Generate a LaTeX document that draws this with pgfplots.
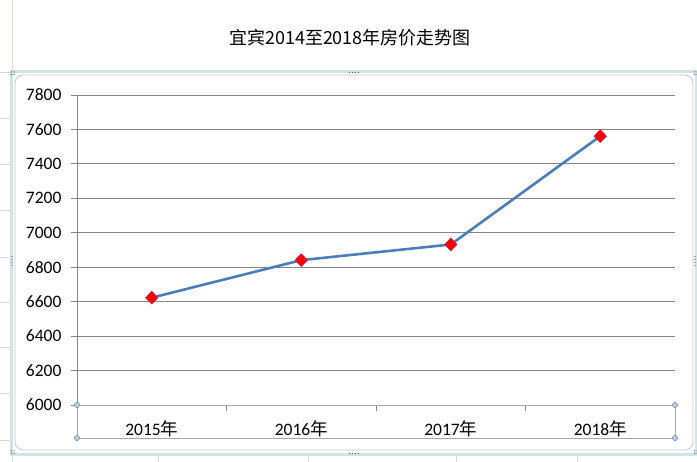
\documentclass[border=0pt]{standalone}
\usepackage{fontspec}
\setmainfont{Carlito}
\newfontfamily\cjk{Noto Sans CJK SC}
\usepackage{pgfplots}
\pgfplotsset{compat=1.18}

\definecolor{gridgray}{HTML}{868686}
\definecolor{linblue}{HTML}{4A7EBB}
\definecolor{cellgrid}{HTML}{D0D7E5}
\definecolor{selframe}{HTML}{CFE4E8}
\definecolor{handle}{HTML}{B9CDE5}
\definecolor{handleedge}{HTML}{6E8CAE}
\definecolor{markedge}{HTML}{AA285A}

\begin{document}
\begin{tikzpicture}
% page size: 697 x 462 (pixel = pt)
\path[use as bounding box] (0pt,0pt) rectangle (697pt,462pt);

% worksheet cell grid behind the chart
\draw[cellgrid, line width=0.8pt] (12.5pt,0pt) -- (12.5pt,462pt);
\foreach \yy in {72,118,164,210,257,302,347,393,440}
  \draw[cellgrid, line width=0.8pt] (0pt,462pt-\yy pt) -- (12pt,462pt-\yy pt);
\foreach \xx in {158,308,456,577}
  \draw[cellgrid, line width=0.8pt] (\xx pt,0pt) -- (\xx pt,7pt);

% title (merged cell above the chart)
\node[font=\cjk\fontsize{18}{20}\selectfont] at (350pt,424pt) {宜宾2014至2018年房价走势图};

% chart object frame (selected)
\draw[selframe, line width=3pt] (11.5pt,7pt) rectangle (696pt,390pt);
\fill[white, rounded corners=8pt] (15pt,12pt) rectangle (693pt,387pt);
\draw[gray!45, line width=0.8pt, rounded corners=8pt] (15pt,12pt) rectangle (693pt,387pt);

\begin{axis}[
    at={(77pt,57pt)}, anchor=south west,
    scale only axis,
    width=598pt, height=310pt,
    xmin=-0.5, xmax=3.5,
    ymin=6000, ymax=7800,
    ytick={6000,6200,...,7800},
    xtick={0.5,1.5,2.5},
    xticklabels={},
    extra x ticks={0,1,2,3},
    extra x tick labels={2015{\cjk 年},2016{\cjk 年},2017{\cjk 年},2018{\cjk 年}},
    extra x tick style={major tick length=0pt, tick style={draw=none}},
    axis lines*=left,
    axis line style={-, draw=gridgray, line width=0.9pt},
    ymajorgrids,
    grid style={draw=gridgray, line width=0.9pt},
    tick align=outside,
    major tick length=6pt,
    tick style={draw=gridgray, line width=0.9pt},
    ticklabel style={font=\fontsize{17.5}{20}\selectfont, text=black},
    /pgf/number format/assume math mode=true,
    /pgf/number format/1000 sep={},
    yticklabel style={xshift=-6pt},
    xticklabel style={yshift=-12pt},
    clip=false,
]
\addplot[color=linblue, line width=2.6pt,
    mark=diamond*, mark size=6.5pt,
    mark options={fill=red, draw=markedge, line width=0.4pt, xscale=1.3}]
  coordinates {
    (0,6623)
    (1,6841)
    (2,6932)
    (3,7561)
  };
\end{axis}

% selection box round the category axis
\draw[gray!70, line width=0.9pt] (77pt,57pt) rectangle (675pt,24pt);
\foreach \p in {(77pt,57pt),(675pt,57pt),(77pt,24pt),(675pt,24pt)}
  \filldraw[fill=handle, draw=handleedge, line width=0.5pt] \p circle (2.6pt);

% frame handles
\foreach \p in {(12pt,388pt),(695pt,388pt),(12pt,9pt),(695pt,9pt)}
  \fill[gray!70!black] \p ++(-1pt,-1pt) rectangle ++(1.2pt,1.2pt)
        \p ++(1.5pt,-1pt) rectangle ++(1.2pt,1.2pt)
        \p ++(-1pt,1.5pt) rectangle ++(1.2pt,1.2pt)
        \p ++(1.5pt,1.5pt) rectangle ++(1.2pt,1.2pt);
\foreach \dx in {-4.5,-1.5,1.5,4.5}{
  \fill[gray!70!black] (354pt+\dx pt,389.5pt) circle (0.6pt);
  \fill[gray!70!black] (354pt+\dx pt,8.5pt) circle (0.6pt);
  \fill[gray!70!black] (12pt,201pt+\dx pt) circle (0.6pt);
  \fill[gray!70!black] (695pt,201pt+\dx pt) circle (0.6pt);
}
\end{tikzpicture}
\end{document}
